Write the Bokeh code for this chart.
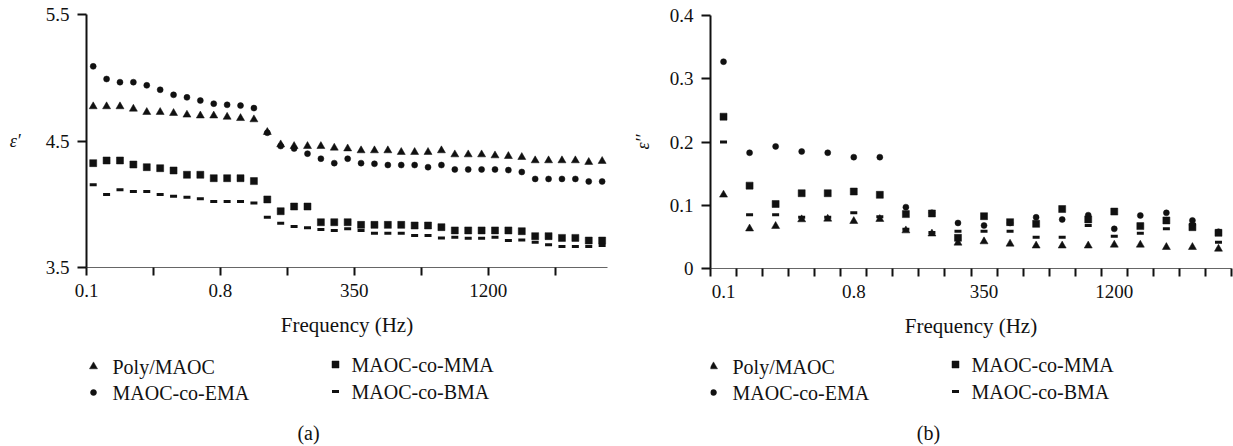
from bokeh.plotting import figure
from bokeh.layouts import row, column
from bokeh.models import FixedTicker, Range1d
from bokeh.core.properties import value
from bokeh.embed import file_html
from bokeh.resources import INLINE

# ---- data -------------------------------------------------------------
series_names = ["Poly/MAOC", "MAOC-co-EMA", "MAOC-co-MMA", "MAOC-co-BMA"]

# (a) real part of permittivity, 39 successive frequency steps
eps1_poly = [4.773, 4.773, 4.773, 4.754, 4.728, 4.728, 4.720, 4.707, 4.700, 4.700,
             4.690, 4.680, 4.670, 4.570, 4.472, 4.459, 4.459, 4.459, 4.446, 4.440,
             4.425, 4.425, 4.425, 4.412, 4.412, 4.412, 4.425, 4.393, 4.393, 4.393,
             4.385, 4.380, 4.372, 4.346, 4.346, 4.346, 4.346, 4.333, 4.341]
eps1_ema = [5.090, 4.990, 4.965, 4.965, 4.940, 4.905, 4.865, 4.845, 4.820, 4.795,
            4.786, 4.780, 4.760, 4.565, 4.460, 4.440, 4.400, 4.360, 4.325, 4.360,
            4.325, 4.320, 4.310, 4.310, 4.310, 4.293, 4.310, 4.275, 4.275, 4.275,
            4.275, 4.270, 4.255, 4.200, 4.200, 4.200, 4.200, 4.180, 4.180]
eps1_mma = [4.325, 4.346, 4.346, 4.314, 4.293, 4.285, 4.267, 4.233, 4.233, 4.206,
            4.206, 4.206, 4.183, 4.038, 3.945, 3.982, 3.982, 3.858, 3.858, 3.858,
            3.837, 3.837, 3.837, 3.837, 3.832, 3.832, 3.819, 3.793, 3.793, 3.793,
            3.793, 3.793, 3.787, 3.748, 3.748, 3.734, 3.734, 3.713, 3.713]
eps1_bma = [4.154, 4.077, 4.114, 4.100, 4.100, 4.077, 4.064, 4.056, 4.043, 4.022,
            4.022, 4.022, 4.009, 3.898, 3.850, 3.824, 3.814, 3.800, 3.793, 3.806,
            3.793, 3.771, 3.771, 3.771, 3.753, 3.753, 3.734, 3.740, 3.732, 3.732,
            3.740, 3.713, 3.718, 3.700, 3.679, 3.666, 3.666, 3.666, 3.674]
steps_a = list(range(len(eps1_poly)))

# (b) dielectric loss, 20 frequency steps
eps2_poly = [0.1165, 0.063, 0.067, 0.0775, 0.0785, 0.0748, 0.078, 0.060, 0.055, 0.0406,
             0.0427, 0.039, 0.036, 0.036, 0.036, 0.0374, 0.0374, 0.0337, 0.0337, 0.031]
eps2_ema = [0.327, 0.183, 0.193, 0.185, 0.183, 0.176, 0.176, 0.097, 0.088, 0.072,
            0.068, 0.072, 0.081, 0.0775, 0.0843, 0.0627, 0.0838, 0.088, 0.076, 0.058]
eps2_mma = [0.240, 0.131, 0.102, 0.119, 0.119, 0.1217, 0.1165, 0.086, 0.087, 0.0485,
            0.0827, 0.0733, 0.0706, 0.094, 0.0775, 0.090, 0.067, 0.076, 0.0653, 0.0564]
eps2_bma = [0.200, 0.085, 0.085, 0.081, 0.081, 0.088, 0.082, 0.062, 0.057, 0.059,
            0.059, 0.059, 0.0495, 0.0495, 0.068, 0.051, 0.0559, 0.0627, 0.070, 0.0416]
steps_b = list(range(len(eps2_poly)))

freq_labels = ["0.1", "0.8", "350", "1200"]

# ---- styling ----------------------------------------------------------
SERIF = "Liberation Serif"
INK = "#111111"
MARKERS = [("triangle", 8), ("circle", 6), ("square", 7), ("dash", 7)]
FRAME_W, FRAME_H = 521, 253


def draw_marker(p, xs, ys, marker, size):
    if marker == "dash":
        return p.scatter(xs, ys, marker="dash", size=size, line_color=INK,
                         line_width=3)
    return p.scatter(xs, ys, marker=marker, size=size, fill_color=INK,
                     line_color=INK, line_width=0.5)


def style_axes(p):
    p.outline_line_color = None
    p.grid.visible = False
    for ax in (p.xaxis[0], p.yaxis[0]):
        ax.major_label_text_font = SERIF
        ax.major_label_text_font_size = "19px"
        ax.major_label_text_color = INK
        ax.axis_label_text_font = SERIF
        ax.axis_label_text_color = INK
        ax.major_tick_in = 0
        ax.major_tick_line_width = 2
        ax.major_tick_line_color = INK
        ax.minor_tick_line_color = None
    xa = p.xaxis[0]
    xa.axis_line_color = "#666666"
    xa.axis_line_width = 1.2
    xa.major_tick_out = 8
    xa.major_label_standoff = 8
    xa.axis_label = "Frequency (Hz)"
    xa.axis_label_text_font_size = "21px"
    xa.axis_label_text_font_style = "normal"
    xa.axis_label_standoff = 13
    ya = p.yaxis[0]
    ya.axis_line_color = INK
    ya.axis_line_width = 2
    ya.major_tick_out = 9
    ya.major_label_standoff = 8
    ya.axis_label_text_font_size = "18px"
    ya.axis_label_text_font_style = "italic"


def key_panel(caption, left, right):
    """Series key and panel caption beneath the axes, in panel pixels."""
    k = figure(frame_width=FRAME_W, frame_height=96, min_border_left=left,
               min_border_right=right, min_border_top=0, min_border_bottom=0,
               x_range=Range1d(left, left + FRAME_W), y_range=Range1d(446, 350),
               x_axis_type=None, y_axis_type=None,
               output_backend="svg", toolbar_location=None)
    k.outline_line_color = None
    k.grid.visible = False
    slots = [(93, 112, 366), (93, 112, 392), (335, 351, 364), (335, 351, 391)]
    for name, (marker, size), (mx, tx, y) in zip(series_names, MARKERS, slots):
        draw_marker(k, [mx], [y], marker, size)
        k.text(x=[tx], y=[y], text=[name], text_font=value(SERIF),
               text_font_size="20px", text_color=INK,
               text_baseline="middle", text_align="left")
    k.text(x=[308], y=[432], text=[caption], text_font=value(SERIF),
           text_font_size="20px", text_color=INK,
           text_baseline="middle", text_align="center")
    return k


# ---- panel (a) --------------------------------------------------------
pa = figure(frame_width=FRAME_W, frame_height=FRAME_H, min_border_left=86,
            min_border_right=13, min_border_top=14, min_border_bottom=83,
            x_range=(-0.5, 38.4), y_range=(3.5, 5.5),
            output_backend="svg", toolbar_location=None)
style_axes(pa)
ticks_a = [-0.5 + 5 * k for k in range(8)]
pa.xaxis[0].ticker = FixedTicker(ticks=ticks_a)
pa.xaxis[0].major_label_overrides = {
    t: (freq_labels[k // 2] if k % 2 == 0 else "") for k, t in enumerate(ticks_a)}
pa.yaxis[0].ticker = FixedTicker(ticks=[3.5, 4.5, 5.5])
pa.yaxis[0].axis_label = "ε′"
pa.yaxis[0].axis_label_orientation = "horizontal"
pa.yaxis[0].axis_label_standoff = 22
for ys, (marker, size) in zip([eps1_poly, eps1_ema, eps1_mma, eps1_bma], MARKERS):
    draw_marker(pa, steps_a, ys, marker, size)

# ---- panel (b) --------------------------------------------------------
pb = figure(frame_width=FRAME_W, frame_height=FRAME_H, min_border_left=90,
            min_border_right=2, min_border_top=15, min_border_bottom=82,
            x_range=(-0.5, 19.5), y_range=(0, 0.4),
            output_backend="svg", toolbar_location=None)
style_axes(pb)
xb = pb.xaxis[0]
xb.ticker = FixedTicker(ticks=[0, 5, 10, 15],
                        minor_ticks=[k - 0.5 for k in range(21)])
xb.major_label_overrides = {0: freq_labels[0], 5: freq_labels[1],
                            10: freq_labels[2], 15: freq_labels[3]}
xb.major_tick_line_color = None
xb.minor_tick_line_color = INK
xb.minor_tick_line_width = 2
xb.minor_tick_in = 0
xb.minor_tick_out = 8
yb = pb.yaxis[0]
yb.ticker = FixedTicker(ticks=[0, 0.1, 0.2, 0.3, 0.4])
yb.major_label_overrides = {0: "0", 0.1: "0.1", 0.2: "0.2", 0.3: "0.3", 0.4: "0.4"}
yb.axis_label = "ε′′"
yb.axis_label_standoff = 14
for ys, (marker, size) in zip([eps2_poly, eps2_ema, eps2_mma, eps2_bma], MARKERS):
    draw_marker(pb, steps_b, ys, marker, size)

layout = row(column(pa, key_panel("(a)", 86, 13)),
             column(pb, key_panel("(b)", 90, 2)))
open("out.html", "w").write(file_html(layout, INLINE))
